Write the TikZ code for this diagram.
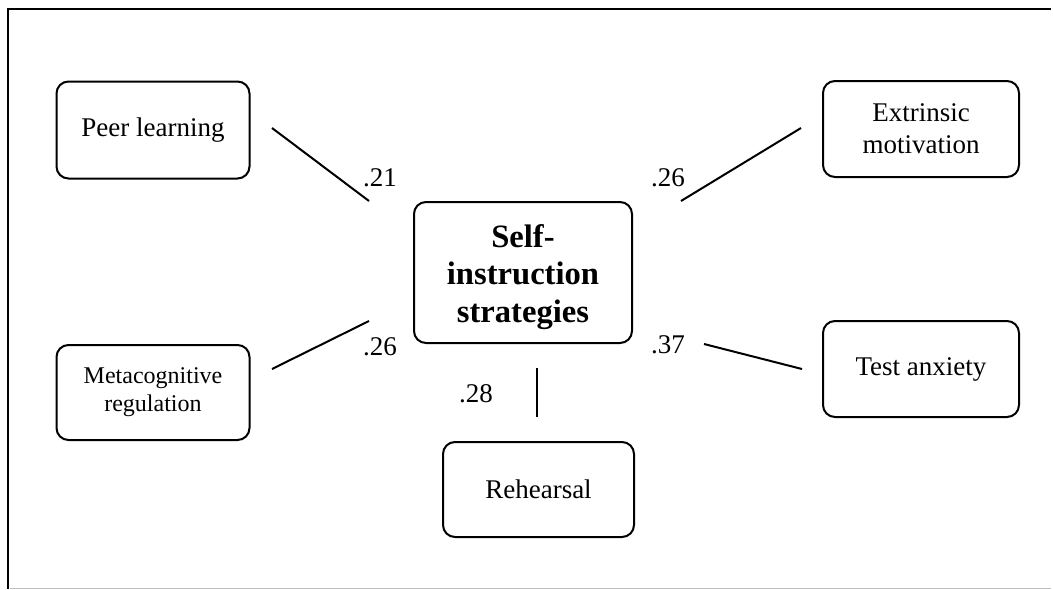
\documentclass[tikz,border=0pt]{standalone}
\usepackage{fontspec}
\setmainfont{Liberation Serif}
\begin{document}
\begin{tikzpicture}[x=0.5pt,y=-0.5pt,
  box/.style={draw,line width=1pt,rounded corners=6pt,align=center,
    inner sep=0pt,font=\fontsize{13.5}{16}\selectfont},
  corefont/.style={align=center,inner sep=0pt,
    font=\fontsize{16.3}{18.8}\selectfont\bfseries},
  smallbox/.style={box,font=\fontsize{12}{14}\selectfont},
  coef/.style={inner sep=0pt,font=\fontsize{13.5}{16}\selectfont},
  link/.style={line width=1pt}]
  \useasboundingbox (0,0) rectangle (1053,589);
  % open frame around the figure
  \draw[line width=1.2pt] (8,589) -- (8,9) -- (1051,9);
  \draw[line width=0.5pt,black!25] (10,588) -- (1051,588);

  % boxes
  \node[box,minimum width=109pt,minimum height=70.5pt] (core) at (523,272.5) {};
  \node[corefont] (coretext) at (523,277) {Self-\\instruction\\strategies};
  \node[box,minimum width=96.5pt,minimum height=48.5pt] (peer) at (153,130) {Peer learning};
  \node[smallbox,minimum width=96.5pt,minimum height=47.5pt] (meta) at (153,392.5)
    {Metacognitive\\regulation};
  \node[box,minimum width=98pt,minimum height=48pt] (extr) at (921,129)
    {Extrinsic\\motivation};
  \node[box,minimum width=98pt,minimum height=48pt] (test) at (921,369) {Test anxiety};
  \node[box,minimum width=95.5pt,minimum height=47.5pt] (reh) at (538.5,489.5) {Rehearsal};

  % end points of the correlation lines
  \coordinate (p1) at (272,128);  \coordinate (p2) at (369,201);
  \coordinate (e1) at (681,201);  \coordinate (e2) at (801,128);
  \coordinate (m1) at (272,369);  \coordinate (m2) at (369,321);
  \coordinate (t1) at (704,344);  \coordinate (t2) at (802,369);
  \coordinate (r1) at (537,368);  \coordinate (r2) at (537,417);

  \draw[link] (p1) -- (p2);
  \draw[link] (e1) -- (e2);
  \draw[link] (m1) -- (m2);
  \draw[link] (t1) -- (t2);
  \draw[link] (r1) -- (r2);

  % coefficients
  \node[coef] (cp) at (380,178) {.21};
  \node[coef] (ce) at (668,178) {.26};
  \node[coef] (cm) at (380,347) {.26};
  \node[coef] (ct) at (668,345) {.37};
  \node[coef] (cr) at (476,394) {.28};
\end{tikzpicture}
\end{document}
